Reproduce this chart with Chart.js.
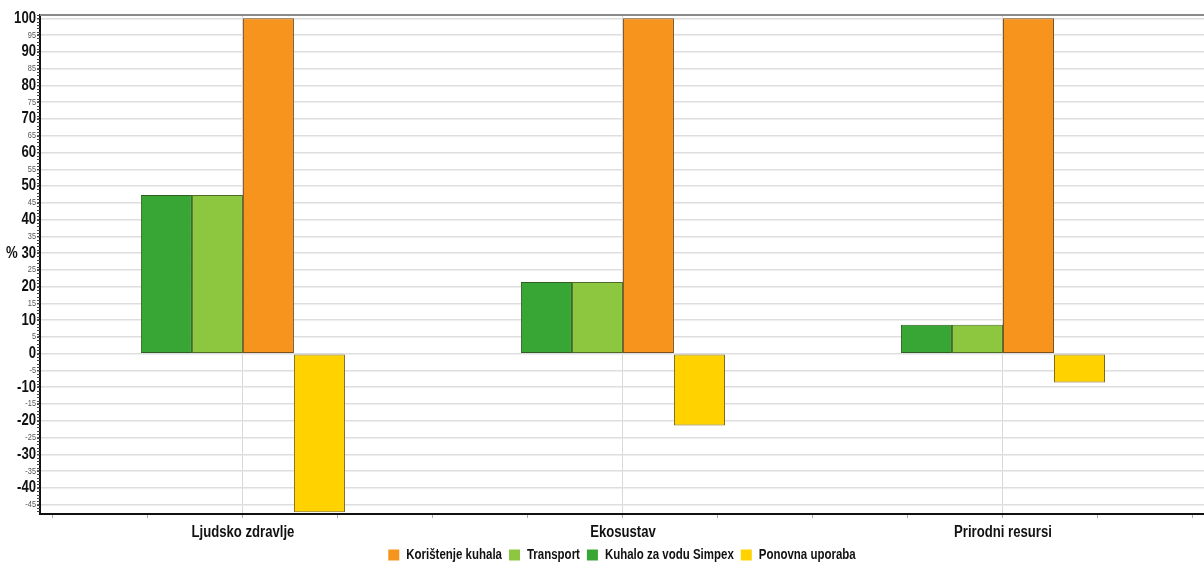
<!DOCTYPE html>
<html>
<head>
<meta charset="utf-8">
<script src="https://cdn.jsdelivr.net/npm/chart.js@4.4.1/dist/chart.umd.min.js"></script>
<style>
  html, body { margin: 0; padding: 0; background: #fff; }
  #wrap { width: 1204px; height: 572px; position: relative; }
</style>
</head>
<body>
<div id="wrap"><canvas id="chart"></canvas></div>
<script>
// categories and series
const categories = ['Ljudsko zdravlje', 'Ekosustav', 'Prirodni resursi'];
const simpex = [47.3, 21.4, 8.6];
const transport = [47.3, 21.4, 8.6];
const koristenje = [100, 100, 100];
const ponovna = [-47.3, -21.4, -8.6];

// legend shows them in another order than the bars
const legendOrder = ['Korištenje kuhala', 'Transport', 'Kuhalo za vodu Simpex', 'Ponovna uporaba'];

// axis ranges / tick steps
const yTicks = [];
for (let v = -45; v <= 100; v += 5) yTicks.push(v);
const xTicks = [];
for (let v = -0.5; v <= 2.5; v += 0.25) xTicks.push(v);

const FONT = "'Liberation Sans', Arial, sans-serif";
const NARROW = 0.82; // no Arial Narrow here, squeeze the text instead

function points(values) {
    return values.map((v, i) => ({ x: i, y: v }));
}

function tickVal(c) {
    return c && c.tick ? c.tick.value : NaN;
}

function narrowText(ctx) {
    const rawFill = ctx.fillText.bind(ctx);
    const rawMeasure = ctx.measureText.bind(ctx);
    ctx.fillText = function (text, x, y, maxWidth) {
        ctx.save();
        ctx.translate(x, y);
        ctx.scale(NARROW, 1);
        if (maxWidth !== undefined) rawFill(text, 0, 0, maxWidth / NARROW);
        else rawFill(text, 0, 0);
        ctx.restore();
    };
    ctx.measureText = function (text) {
        const m = rawMeasure(text);
        return {
            width: m.width * NARROW,
            actualBoundingBoxAscent: m.actualBoundingBoxAscent,
            actualBoundingBoxDescent: m.actualBoundingBoxDescent
        };
    };
}

const frameLines = {
    id: 'frameLines',
    afterDraw(chart) {
        const { ctx, chartArea: { top, left, right }, scales: { y } } = chart;
        ctx.save();
        // top border
        ctx.strokeStyle = '#8a8a8a';
        ctx.lineWidth = 2;
        ctx.beginPath();
        ctx.moveTo(left, top);
        ctx.lineTo(right, top);
        ctx.stroke();
        // small unit ticks along the value axis
        ctx.strokeStyle = '#444';
        ctx.lineWidth = 1;
        for (let v = Math.ceil(y.min); v <= Math.floor(y.max); v++) {
            const py = Math.round(y.getPixelForValue(v)) + 0.5;
            ctx.beginPath();
            ctx.moveTo(left - 3, py);
            ctx.lineTo(left, py);
            ctx.stroke();
        }
        ctx.restore();
    }
};

const ctx = document.getElementById('chart').getContext('2d');
narrowText(ctx);

new Chart(ctx, {
    type: 'bar',
    data: {
        datasets: [
            { label: 'Kuhalo za vodu Simpex', data: points(simpex), backgroundColor: '#37a635', borderColor: '#2f5e22' },
            { label: 'Transport', data: points(transport), backgroundColor: '#8dc63f', borderColor: '#4d6a2a' },
            { label: 'Korištenje kuhala', data: points(koristenje), backgroundColor: '#f7941d', borderColor: '#7a5020' },
            { label: 'Ponovna uporaba', data: points(ponovna), backgroundColor: '#ffd200', borderColor: '#7d6a16' }
        ]
    },
    options: {
        responsive: true,
        maintainAspectRatio: false,
        animation: false,
        layout: { padding: { top: 15, right: 0, left: 0, bottom: 0 } },
        datasets: {
            bar: {
                borderWidth: 1,
                borderSkipped: false,
                // the ruler sees the quarter ticks, so the group is 4 x 0.537 of that gap
                categoryPercentage: 2.148,
                barPercentage: 1
            }
        },
        plugins: {
            tooltip: { enabled: false },
            legend: {
                position: 'bottom',
                fullSize: false,
                labels: {
                    boxWidth: 11,
                    boxHeight: 11,
                    padding: 7,
                    color: '#111',
                    font: { family: FONT, size: 14, weight: 'bold' },
                    sort: (a, b) => legendOrder.indexOf(a.text) - legendOrder.indexOf(b.text),
                    generateLabels(chart) {
                        const items = Chart.defaults.plugins.legend.labels.generateLabels(chart);
                        items.forEach(it => { it.strokeStyle = it.fillStyle; it.lineWidth = 0; });
                        return items;
                    }
                }
            }
        },
        scales: {
            x: {
                type: 'linear',
                offset: false,
                afterBuildTicks(scale) {
                    scale.ticks = xTicks.map(v => ({ value: v }));
                    scale.min = -0.534;
                    scale.max = 2.529;
                },
                afterFit(scale) { scale.height = 27; },
                border: { display: true, color: '#111', width: 2 },
                grid: {
                    offset: false,
                    color: c => Number.isInteger(tickVal(c)) ? '#d8d8d8' : 'rgba(0,0,0,0)',
                    tickColor: '#aaa',
                    tickLength: 4
                },
                ticks: {
                    autoSkip: false,
                    maxRotation: 0,
                    padding: 5,
                    color: '#111',
                    font: { family: FONT, size: 16, weight: 'bold' },
                    callback: v => Number.isInteger(v) ? categories[v] : ''
                }
            },
            y: {
                afterBuildTicks(scale) {
                    scale.ticks = yTicks.map(v => ({ value: v }));
                    scale.min = -47.8;
                    scale.max = 101;
                },
                afterFit(scale) { scale.width = 40; },
                border: { display: true, color: '#111', width: 2 },
                grid: {
                    color: '#dedede',
                    lineWidth: 1.5,
                    tickColor: '#666',
                    tickLength: 3
                },
                ticks: {
                    autoSkip: false,
                    padding: 1,
                    color: c => tickVal(c) % 10 === 0 ? '#111' : '#555',
                    font: c => tickVal(c) % 10 === 0
                        ? { family: FONT, size: 16, weight: 'bold' }
                        : { family: FONT, size: 9 },
                    callback: v => v === 30 ? '% 30' : String(v)
                }
            }
        }
    },
    plugins: [frameLines]
});
</script>
</body>
</html>
